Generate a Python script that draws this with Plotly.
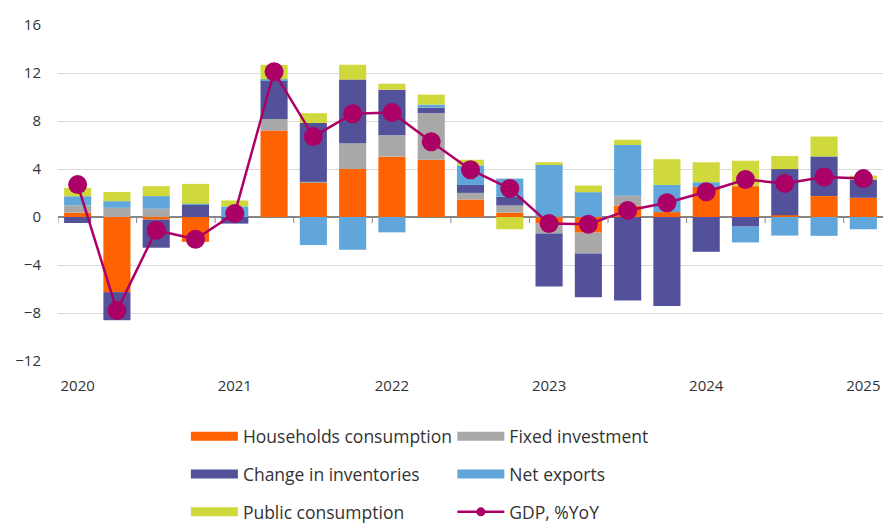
import plotly.graph_objects as go

quarters = ["2020Q1", "2020Q2", "2020Q3", "2020Q4",
            "2021Q1", "2021Q2", "2021Q3", "2021Q4",
            "2022Q1", "2022Q2", "2022Q3", "2022Q4",
            "2023Q1", "2023Q2", "2023Q3", "2023Q4",
            "2024Q1", "2024Q2", "2024Q3", "2024Q4",
            "2025Q1"]
year_ticks = ["2020Q1", "2021Q1", "2022Q1", "2023Q1", "2024Q1", "2025Q1"]
year_labels = ["2020", "2021", "2022", "2023", "2024", "2025"]

households = [0.36, -6.26, -0.22, -2.07, 0.0, 7.2, 2.85, 4.0, 5.03, 4.78, 1.46, 0.36,
              -0.55, -1.3, 0.95, 0.41, 2.51, 2.57, 0.15, 1.74, 1.6]
fixed_investment = [0.6, 0.77, 0.69, 0.0, 0.0, 0.97, 0.08, 2.15, 1.78, 3.87, 0.55, 0.6,
                    -0.83, -1.74, 0.83, 0.0, 0.0, 0.0, 0.0, 0.0, 0.0]
inventories = [-0.5, -2.34, -2.34, 1.0, -0.55, 3.23, 4.9, 5.3, 3.8, 0.46, 0.66, 0.72,
               -4.41, -3.64, -6.95, -7.42, -2.9, -0.8, 3.84, 3.31, 1.52]
net_exports = [0.77, 0.55, 1.05, 0.1, 0.88, 0.08, -2.34, -2.73, -1.28, 0.26, 1.63, 1.52,
               4.41, 2.07, 4.22, 2.26, 0.39, -1.32, -1.55, -1.57, -1.02]
public_consumption = [0.7, 0.77, 0.83, 1.66, 0.5, 1.2, 0.82, 1.24, 0.5, 0.83, 0.47, -1.02,
                      0.15, 0.55, 0.44, 2.15, 1.66, 2.12, 1.1, 1.66, 0.33]
gdp = [2.7, -7.8, -1.1, -1.85, 0.3, 12.1, 6.7, 8.6, 8.7, 6.27, 3.94, 2.37,
       -0.55, -0.6, 0.55, 1.19, 2.1, 3.12, 2.8, 3.33, 3.2]

names = ["Households consumption", "Fixed investment", "Change in inventories",
         "Net exports", "Public consumption", "GDP, %YoY"]
colors = ["#FF6200", "#A8A8A8", "#525199", "#60A6DA", "#D0D93C", "#AB0066"]
bar_series = [households, fixed_investment, inventories, net_exports, public_consumption]
legend_of = ["legend", "legend2", "legend", "legend2", "legend"]

FONT = "Open Sans"
TEXT = "#333333"

fig = go.Figure()
for name, vals, col in zip(names[:5], bar_series, colors[:5]):
    fig.add_trace(go.Bar(x=quarters, y=vals, name=name, marker=dict(color=col, line=dict(width=0)),
                         showlegend=False, hovertemplate="%{x}: %{y}<extra>" + name + "</extra>"))

fig.add_trace(go.Scatter(x=quarters, y=gdp, name=names[5], mode="lines+markers",
                         line=dict(color=colors[5], width=2.5),
                         marker=dict(color=colors[5], size=19), showlegend=False))

# legend entries (wide swatches)
for name, col, lg in zip(names[:5], colors[:5], legend_of):
    fig.add_trace(go.Scatter(x=[None], y=[None], mode="lines", name=name,
                             line=dict(color=col, width=9), legend=lg, legendgroup=name,
                             showlegend=True, hoverinfo="skip"))
fig.add_trace(go.Scatter(x=[None], y=[None], mode="lines+markers", name=names[5],
                         line=dict(color=colors[5], width=2.5), marker=dict(color=colors[5], size=9),
                         legend="legend2", legendgroup=names[5], showlegend=True, hoverinfo="skip"))

# small tick marks on the zero line every two quarters
for i in range(0, len(quarters) + 1, 2):
    fig.add_shape(type="line", xref="x", yref="y", x0=i - 0.5, x1=i - 0.5, y0=0, y1=-0.5,
                  line=dict(color="#868686", width=1), layer="above")

legend_common = dict(orientation="v", font=dict(family=FONT, size=17.5, color=TEXT),
                     bgcolor="rgba(0,0,0,0)", itemwidth=47, tracegroupgap=12,
                     xanchor="left", yanchor="top", itemclick=False, itemdoubleclick=False)

fig.update_layout(
    width=883, height=524, autosize=False,
    margin=dict(l=58, r=0, t=25, b=163, autoexpand=False),
    paper_bgcolor="white", plot_bgcolor="white",
    barmode="relative", bargap=0.31,
    font=dict(family=FONT, size=15, color=TEXT),
    xaxis=dict(type="category", range=[-0.5, len(quarters) - 0.5], tickmode="array",
               tickvals=year_ticks, ticktext=year_labels, showgrid=False, ticks="",
               showline=False, zeroline=False, ticklabelstandoff=14,
               tickfont=dict(family=FONT, size=15, color=TEXT)),
    yaxis=dict(range=[-12, 16], tickmode="array", tickvals=list(range(-12, 17, 4)),
               showgrid=True, gridcolor="#D9D9D9", gridwidth=1.3,
               zeroline=True, zerolinecolor="#868686", zerolinewidth=1.5,
               ticks="", showline=False, ticklabelstandoff=16,
               tickfont=dict(family=FONT, size=15, color=TEXT)),
    legend=dict(x=0.155, y=-0.171, **legend_common),
    legend2=dict(x=0.478, y=-0.171, **legend_common),
)

fig.write_html("out.html", config={"displayModeBar": False},
               post_script="document.body.style.margin='0';")
